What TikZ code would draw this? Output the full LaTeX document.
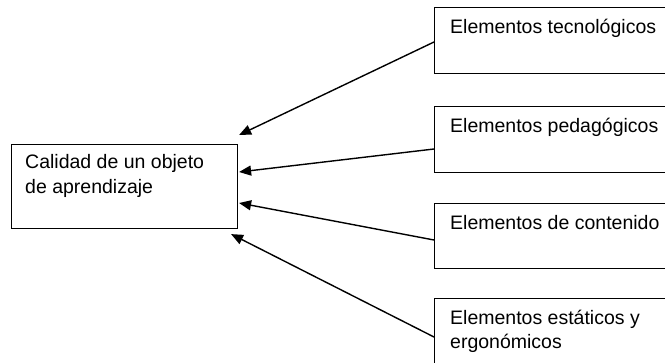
\documentclass[tikz,border=0pt]{standalone}
\usepackage{fontspec}
\setmainfont{Liberation Sans}
\usetikzlibrary{arrows.meta}
\begin{document}
\begin{tikzpicture}[x=1pt,y=-1pt,
  box/.style={draw=black, line width=1.1pt, inner sep=0pt, anchor=north west},
  txt/.style={anchor=base west, inner sep=0pt, font=\fontsize{19.5}{24.5}\selectfont, align=left},
  arr/.style={line width=1.4pt, -{Triangle[length=12pt,width=10pt]}}]
\useasboundingbox (0,0) rectangle (665,362);
\clip (0,0) rectangle (665,362);
% left box
\node[box, minimum width=226pt, minimum height=84pt] (a) at (11,144) {};
\node[txt] (ta) at (25,193) {Calidad de un objeto\\de aprendizaje};
% right boxes
\node[box, minimum width=260pt, minimum height=66pt] (b1) at (434,7) {};
\node[txt] (t1) at (450,33) {Elementos tecnológicos};
\node[box, minimum width=260pt, minimum height=66pt] (b2) at (434,106) {};
\node[txt] (t2) at (450,132) {Elementos pedagógicos};
\node[box, minimum width=260pt, minimum height=65pt] (b3) at (434,203) {};
\node[txt] (t3) at (450,229) {Elementos de contenido};
\node[box, minimum width=260pt, minimum height=90pt] (b4) at (434,298) {};
\node[txt] (t4) at (450,348.5) {Elementos estáticos y\\ergonómicos};
% connection points
\coordinate (s1) at ([yshift=-35pt]b1.north west);
\coordinate (s2) at ([yshift=-43pt]b2.north west);
\coordinate (s3) at ([yshift=-37pt]b3.north west);
\coordinate (s4) at ([yshift=-39pt]b4.north west);
\coordinate (e1) at ([xshift=1pt,yshift=9pt]a.north east);
\coordinate (e2) at ([xshift=1pt,yshift=-28pt]a.north east);
\coordinate (e3) at ([xshift=1pt,yshift=-59pt]a.north east);
\coordinate (e4) at ([xshift=-7pt,yshift=-5pt]a.south east);
\draw[arr] (s1) -- (e1);
\draw[arr] (s2) -- (e2);
\draw[arr] (s3) -- (e3);
\draw[arr] (s4) -- (e4);
\end{tikzpicture}
\end{document}
